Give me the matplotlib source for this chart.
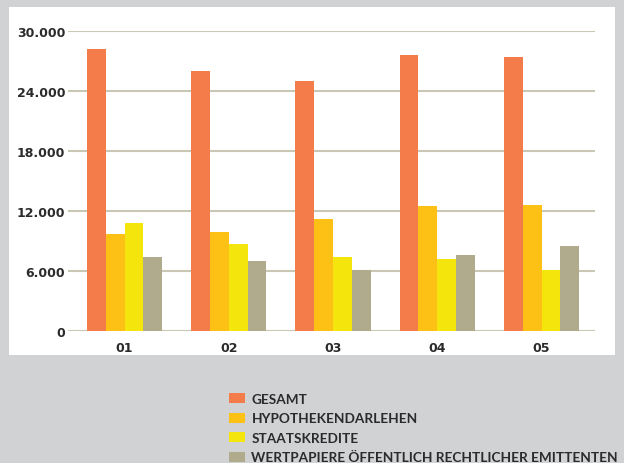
import matplotlib.pyplot as plt
from matplotlib.patches import Rectangle
import numpy as np

# values
years = ['01', '02', '03', '04', '05']
gesamt = [28200, 26000, 25000, 27600, 27400]
hypothekendarlehen = [9700, 9900, 11200, 12500, 12600]
staatskredite = [10800, 8700, 7400, 7200, 6100]
wertpapiere = [7400, 7000, 6100, 7600, 8500]
series_names = ['GESAMT', 'HYPOTHEKENDARLEHEN', 'STAATSKREDITE',
                'WERTPAPIERE ÖFFENTLICH RECHTLICHER EMITTENTEN']
y_ticks = [0, 6000, 12000, 18000, 24000, 30000]
y_tick_labels = ['0', '6.000', '12.000', '18.000', '24.000', '30.000']

colors = ['#f47b4a', '#fdc014', '#f4e50c', '#b1ab8e']
text_color = '#2b2b2b'

fig = plt.figure(figsize=(6.24, 4.64), dpi=100, facecolor='#d1d2d4')
# white panel behind the plot
fig.patches.append(Rectangle((9 / 624, 1 - 356 / 464), 606 / 624, 348 / 464,
                             transform=fig.transFigure, facecolor='white',
                             edgecolor='none', zorder=-10))

ax = fig.add_axes([68 / 624, 1 - 332 / 464, 527 / 624, 300 / 464])
ax.set_facecolor('none')

x = np.arange(len(years))
width = 0.18
all_series = [gesamt, hypothekendarlehen, staatskredite, wertpapiere]
for i, (vals, name) in enumerate(zip(all_series, series_names)):
    ax.bar(x + (i - 1.5) * width, vals, width, color=colors[i], label=name,
           zorder=3, linewidth=0)

ax.set_ylim(0, 30000)
ax.set_xlim(-0.542, 4.513)
ax.set_yticks(y_ticks)
ax.set_yticklabels(y_tick_labels)
ax.set_xticks(x)
ax.set_xticklabels(years)
ax.yaxis.grid(True, color='#cbc7b5', linewidth=1.5, zorder=1)
ax.set_axisbelow(True)
for s in ax.spines.values():
    s.set_visible(False)
ax.tick_params(axis='both', length=0, colors=text_color, labelsize=9)
ax.tick_params(axis='y', pad=2)
ax.tick_params(axis='x', pad=7)
for lbl in ax.get_xticklabels() + ax.get_yticklabels():
    lbl.set_fontweight('bold')

handles, labels = ax.get_legend_handles_labels()
leg = fig.legend(handles, labels, loc='upper left',
                 bbox_to_anchor=(229 / 624, 1 - 394 / 464),
                 frameon=False, borderpad=0, borderaxespad=0,
                 handlelength=1.15, handleheight=0.8, handletextpad=0.5,
                 labelspacing=0.55,
                 prop={'family': 'Lato', 'weight': 'bold', 'size': 9.8})
for t in leg.get_texts():
    t.set_color(text_color)

fig.savefig('out.png', dpi=100, facecolor=fig.get_facecolor())
